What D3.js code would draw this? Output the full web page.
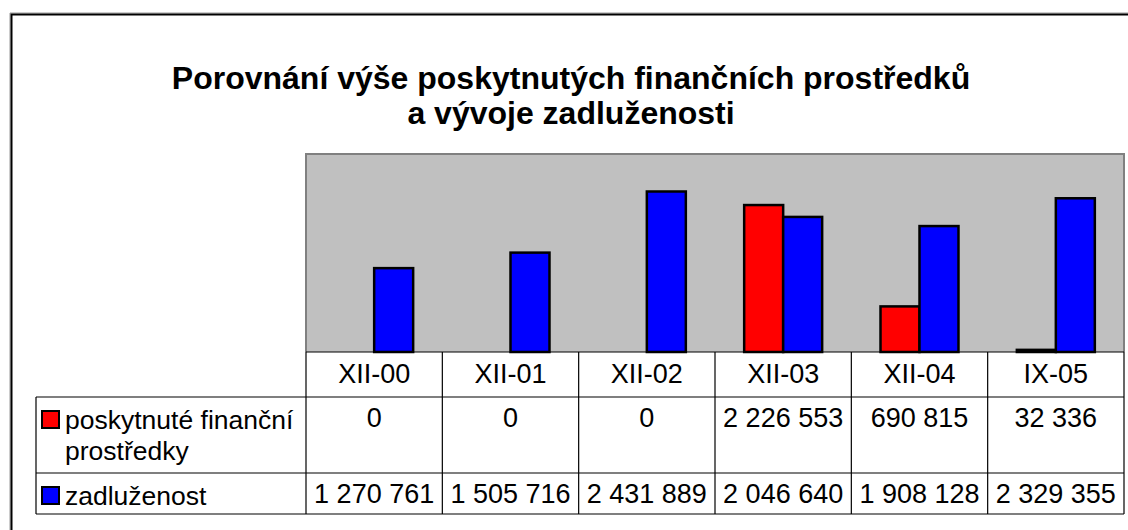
<!DOCTYPE html>
<html>
<head>
<meta charset="utf-8">
<script src="https://cdn.jsdelivr.net/npm/d3@7"></script>
<style>
  body { margin: 0; background: #fff; }
  text { font-family: "Liberation Sans", Arial, sans-serif; fill: #000; }
</style>
</head>
<body>
<div id="chart"></div>
<script>
// data
var categories = ["XII-00", "XII-01", "XII-02", "XII-03", "XII-04", "IX-05"];
var seriesNames = ["poskytnuté finanční prostředky", "zadluženost"];
var prostredky = [0, 0, 0, 2226553, 690815, 32336];
var zadluzenost = [1270761, 1505716, 2431889, 2046640, 1908128, 2329355];
var seriesColors = ["#ff0000", "#0000ff"];
var titleLines = ["Porovnání výše poskytnutých finančních prostředků", "a vývoje zadluženosti"];

var W = 1128, H = 530;
var plot = {left: 306, right: 1124, top: 154, bottom: 352};
var rows = {head: 352, r1: 397, r2: 473, end: 514};
var legendLeft = 36;

var svg = d3.select('#chart').append('svg')
    .attr('width', W).attr('height', H);

// outer frame
svg.append('path').attr('d', 'M10,530 V13 H1128').attr('fill', 'none')
    .attr('stroke', '#999').attr('stroke-width', 1);
svg.append('path').attr('d', 'M11.5,530 V14.5 H1128').attr('fill', 'none')
    .attr('stroke', '#000').attr('stroke-width', 2);

// title
svg.append('g').selectAll('text').data(titleLines).enter().append('text')
    .attr('x', 571).attr('y', function(d, i) { return 89 + i * 35; })
    .attr('text-anchor', 'middle')
    .style('font-weight', 'bold').style('font-size', '32px')
    .text(function(d) { return d; });

// scales
var x = d3.scaleBand().domain(categories).range([plot.left, plot.right]);
var bw = x.bandwidth();
var x1 = d3.scaleBand().domain(seriesNames).range([bw * 0.214, bw * 0.786]);
var y = d3.scaleLinear().domain([0, 3000000]).range([plot.bottom, plot.top]);

// plot area
svg.append('rect')
    .attr('x', plot.left).attr('y', plot.top)
    .attr('width', plot.right - plot.left).attr('height', plot.bottom - plot.top)
    .attr('fill', '#c0c0c0');
svg.append('path')
    .attr('d', 'M' + (plot.left) + ',' + plot.bottom + ' V' + plot.top + ' H' + plot.right + ' V' + plot.bottom)
    .attr('fill', 'none').attr('stroke', '#808080').attr('stroke-width', 2);

// bars
var series = [prostredky, zadluzenost];
var groups = svg.append('g').selectAll('g').data(series).enter().append('g')
    .attr('fill', function(d, i) { return seriesColors[i]; });
groups.each(function(vals, si) {
    d3.select(this).selectAll('rect').data(vals).enter().append('rect')
        .attr('x', function(d, i) { return x(categories[i]) + x1(seriesNames[si]); })
        .attr('y', function(d) { return y(d); })
        .attr('width', x1.bandwidth())
        .attr('height', function(d) { return y(0) - y(d); })
        .attr('stroke', '#000').attr('stroke-width', 2.5)
        .style('display', function(d) { return d > 0 ? null : 'none'; });
});

// data table
var fmt = d3.formatLocale({decimal: ',', thousands: ' ', grouping: [3], currency: ['', '']}).format(',d');
var tbl = svg.append('g');
var line = function(x0, y0, x1_, y1_) {
    tbl.append('line').attr('x1', x0).attr('y1', y0).attr('x2', x1_).attr('y2', y1_)
        .attr('stroke', '#000').attr('stroke-width', 1.2);
};
line(plot.left, rows.head, plot.right, rows.head);
line(legendLeft, rows.r1, plot.right, rows.r1);
line(legendLeft, rows.r2, plot.right, rows.r2);
line(legendLeft, rows.end, plot.right, rows.end);
line(legendLeft, rows.r1, legendLeft, rows.end);
categories.forEach(function(c) { line(x(c), rows.head, x(c), rows.end); });
line(plot.right, rows.head, plot.right, rows.end);

tbl.selectAll('.cat').data(categories).enter().append('text')
    .attr('x', function(d) { return x(d) + bw / 2; }).attr('y', 383)
    .attr('text-anchor', 'middle').style('font-size', '27px')
    .text(function(d) { return d; });

series.forEach(function(vals, si) {
    tbl.append('g').selectAll('text').data(vals).enter().append('text')
        .attr('x', function(d, i) { return x(categories[i]) + bw / 2; })
        .attr('y', si === 0 ? 427 : 503)
        .attr('text-anchor', 'middle').style('font-size', '27px')
        .text(function(d) { return fmt(d); });
});

// legend keys in the table
var legendY = [411, 487];
seriesNames.forEach(function(name, si) {
    tbl.append('rect')
        .attr('x', 42).attr('y', legendY[si]).attr('width', 17).attr('height', 17)
        .attr('fill', seriesColors[si]).attr('stroke', '#000').attr('stroke-width', 2);
});
var lbl1 = tbl.append('text').attr('x', 65).attr('y', 429).style('font-size', '26.5px');
lbl1.append('tspan').attr('x', 65).text('poskytnuté finanční');
lbl1.append('tspan').attr('x', 65).attr('dy', 31).text('prostředky');
tbl.append('text').attr('x', 65).attr('y', 505).style('font-size', '26.5px').text(seriesNames[1]);
</script>
</body>
</html>
